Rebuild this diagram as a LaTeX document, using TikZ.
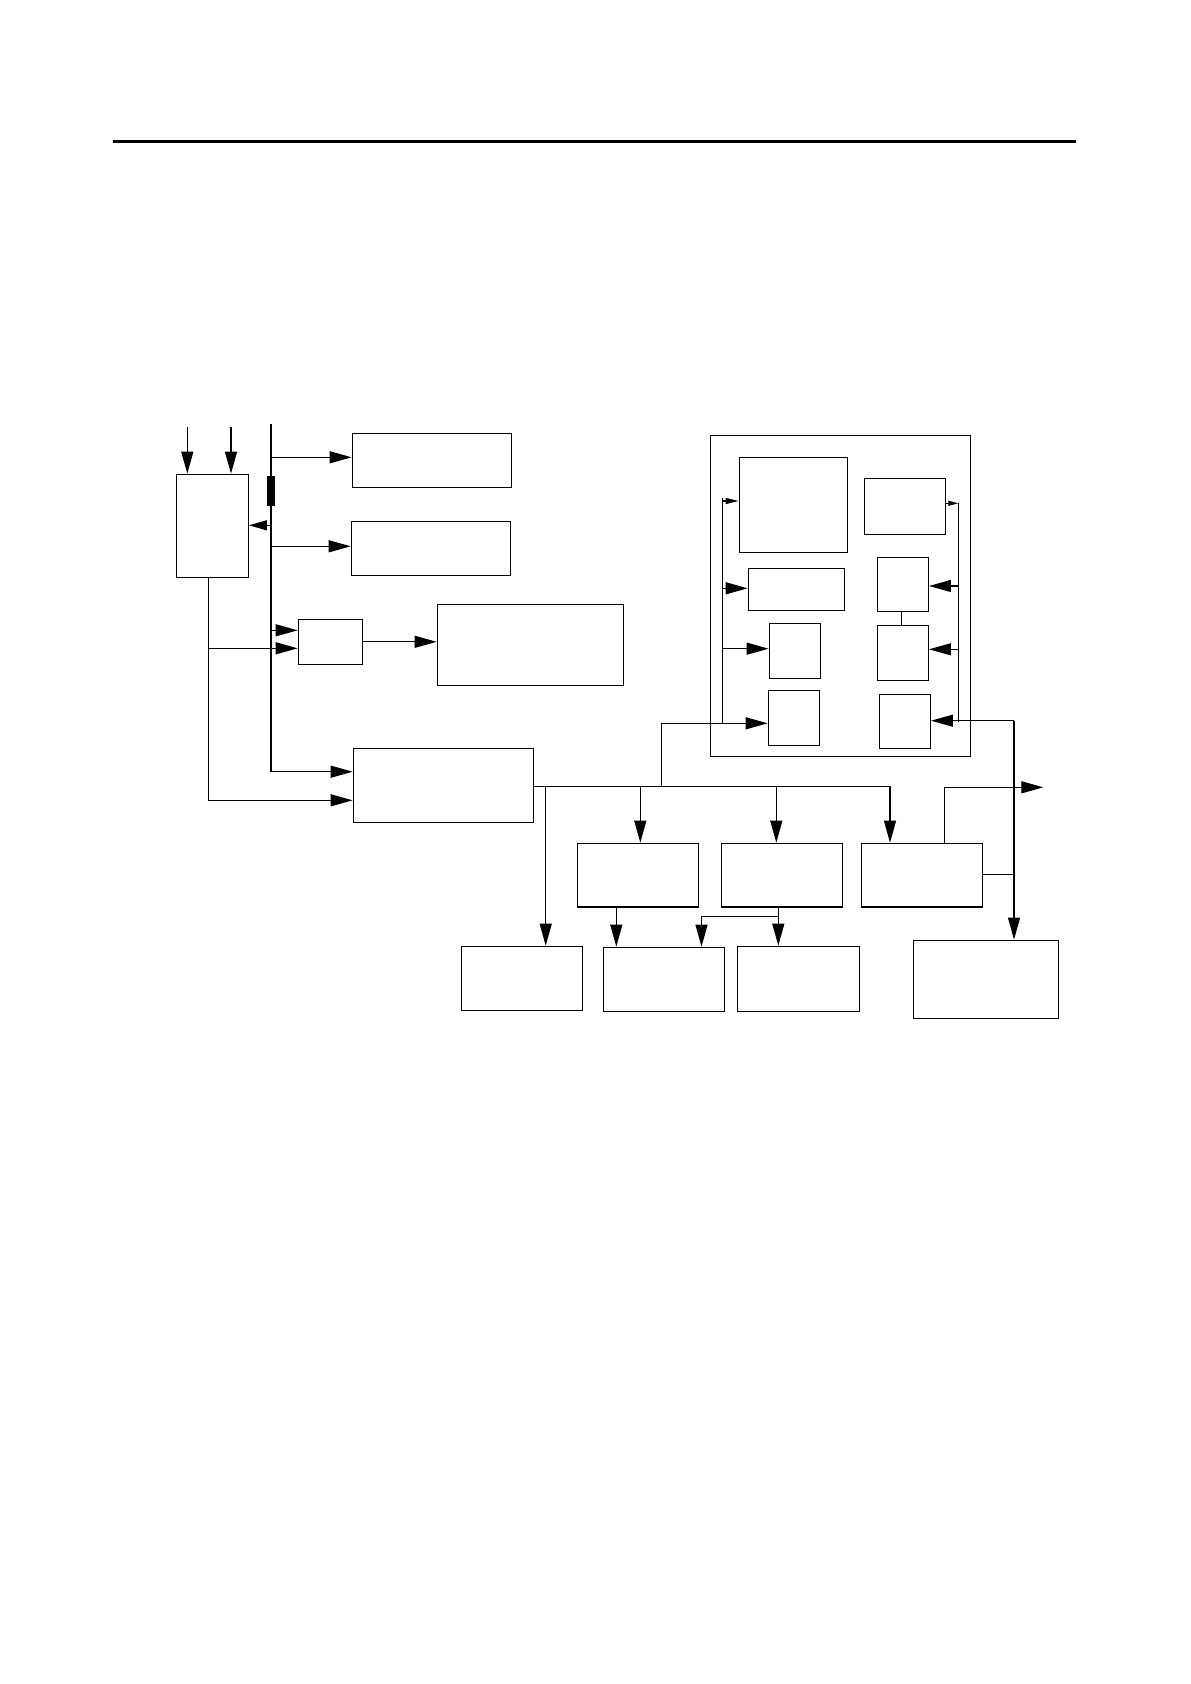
\documentclass[tikz,border=0pt]{standalone}
\usetikzlibrary{arrows.meta,fit}
\begin{document}
\begin{tikzpicture}[x=0.5pt,y=-0.5pt,
  box/.style={draw,line width=0.65pt,inner sep=0pt,fit={#1}},
  ln/.style={line width=0.6pt},
  arr/.style={ln,-{Triangle[length=11pt,width=6pt]}},
  arrm/.style={ln,-{Triangle[length=9pt,width=5pt]}},
  arrs/.style={ln,-{Triangle[length=6.5pt,width=3pt]}},
  arrxs/.style={ln,-{Triangle[length=5pt,width=2.5pt]}}]
\useasboundingbox (0,0) rectangle (1190,1684);
% top rule
\coordinate (r1) at (113,141.5);
\coordinate (r2) at (1076,141.5);
\draw[line width=1.35pt] (r1) -- (r2);
% boxes
\node[box={(176.3,474.3) (248.3,577.3)}] (A) {};
\node[box={(352.3,433.3) (511.7,487.3)}] (B1) {};
\node[box={(351.3,521.3) (510.7,575.3)}] (B2) {};
\node[box={(298.3,619.3) (362.3,664.3)}] (C) {};
\node[box={(437.3,604.3) (623.3,685.3)}] (D) {};
\node[box={(353.3,748.3) (533.3,822.3)}] (E) {};
\node[box={(710.3,435.3) (970.3,756.3)}] (FR) {};
\node[box={(739.3,457.3) (847.3,552.3)}] (I1) {};
\node[box={(864.3,478.3) (945.7,534.3)}] (I2) {};
\node[box={(748.3,568.3) (844.3,610.3)}] (I3) {};
\node[box={(769.3,623.3) (820.3,678.3)}] (I4) {};
\node[box={(768.3,690.3) (819.3,745.3)}] (I5) {};
\node[box={(877.3,557.3) (928.3,611.3)}] (J1) {};
\node[box={(877.3,625.3) (928.3,680.3)}] (J2) {};
\node[box={(879.3,694.3) (930.3,748.3)}] (J3) {};
\node[box={(577.3,843.3) (698.7,907)}] (G1) {};
\node[box={(721.3,843.3) (842.7,907)}] (G2) {};
\node[box={(861.3,843.3) (982.7,907)}] (G3) {};
\node[box={(461.3,946.3) (582.7,1010.3)}] (F1) {};
\node[box={(603.3,947.3) (724.3,1011.3)}] (F2) {};
\node[box={(737.3,946.3) (859.3,1011.3)}] (F3) {};
\node[box={(913.3,940.3) (1058.3,1018.3)}] (H) {};
% inputs to A
\coordinate (in1) at (187.3,426.7);
\coordinate (in2) at (231,426.7);
\draw[arr] (in1) -- (in1 |- A.north);
\draw[arr] (in2) -- (in2 |- A.north);
% spine
\coordinate (sT) at (271,424);
\coordinate (sB) at (271,771.7);
\draw[ln] (sT) -- (sB);
\fill (267,476) rectangle (275,505.7);
\draw[arr] (271,457.3) -- (B1.west |- 0,457.3);
\draw[arr] (271,546.3) -- (B2.west |- 0,546.3);
\draw[arrm] (271,525.3) -- (A.east |- 0,525.3);
\draw[arr] (271,630.3) -- (C.west |- 0,630.3);
\draw[arr] (sB) -- (E.west |- sB);
% line from A bottom
\coordinate (aB) at (208.7,801);
\draw[ln] (A.south -| aB) -- (aB);
\draw[arr] (208.7,648.3) -- (C.west |- 0,648.3);
\draw[arr] (208.7,800.3) -- (E.west |- 0,800.3);
% C to D
\draw[arr] (C.east) -- (D.west |- C.east);
% bus
\coordinate (bR) at (890,786.3);
\draw[ln] (E.east |- bR) -- (bR);
\draw[arr] (545.7,786.3) -- (F1.north -| 545.7,0);
\draw[arr] (640.3,786.3) -- (G1.north -| 640.3,0);
\draw[arr] (776.3,786.3) -- (G2.north -| 776.3,0);
\draw[arr] (bR) -- (G3.north -| bR);
\draw[arr] (661.3,786.3) -- (661.3,723.3) -- (I5.west |- 0,723.3);
% inner left line
\draw[ln] (722.3,498.3) -- (722.3,723.3);
\draw[arrs] (722.3,501) -- (I1.west |- 0,501);
\draw[arr] (722.3,588.3) -- (I3.west |- 0,588.3);
\draw[arr] (722.3,648.7) -- (I4.west |- 0,648.7);
% inner right line
\draw[ln] (958.3,503.3) -- (958.3,721.7);
\draw[arrxs] (I2.east |- 0,503.3) -- (958.3,503.3);
\draw[arr] (958.3,586) -- (J1.east |- 0,586);
\draw[arr] (958.3,649.3) -- (J2.east |- 0,649.3);
\draw[ln] (J1.south -| 901.3,0) -- (J2.north -| 901.3,0);
% right vertical to H
\coordinate (rv) at (1014,720.7);
\draw[arr] (rv) -- (J3.east |- rv);
\draw[arr] (rv) -- (H.north -| rv);
% G3 outputs
\coordinate (outR) at (1043.3,787.3);
\draw[arr] (G3.north -| 944.3,0) -- (944.3,787.3) -- (outR);
\draw[ln] (G3.east |- 0,874.3) -- (1014,874.3);
% G1, G2 to bottom row
\draw[arr] (G1.south -| 616.3,0) -- (F2.north -| 616.3,0);
\draw[arr] (G2.south -| 778.3,0) -- (F3.north -| 778.3,0);
\draw[arr] (778.3,916.3) -- (701.5,916.3) -- (F2.north -| 701.5,0);
\end{tikzpicture}
\end{document}
